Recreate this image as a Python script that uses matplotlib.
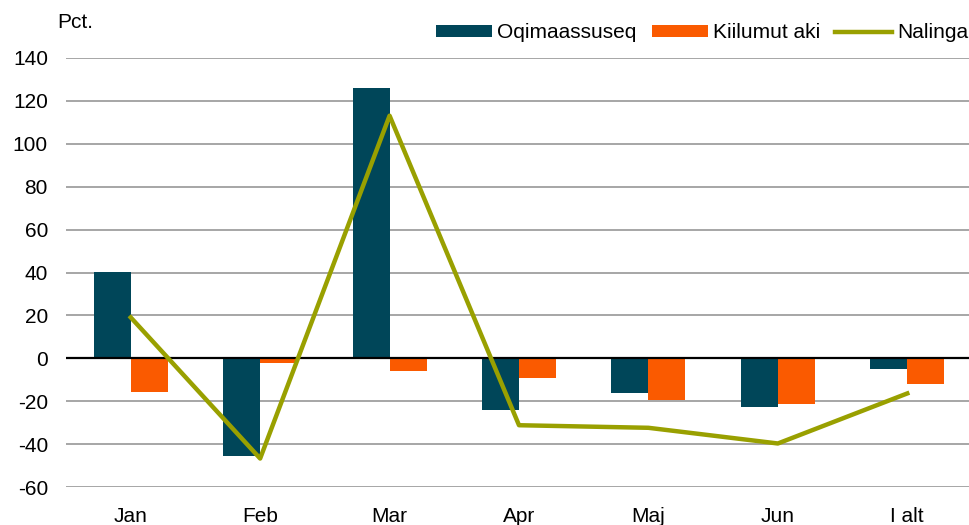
import matplotlib
matplotlib.use("Agg")
import matplotlib.pyplot as plt
import numpy as np

plt.rcParams['font.family'] = ['Liberation Sans', 'DejaVu Sans']

categories = ["Jan", "Feb", "Mar", "Apr", "Maj", "Jun", "I alt"]
oqimaassuseq = [40.3, -45.4, 125.7, -24.1, -16.0, -22.8, -4.7]
kiilumut_aki = [-15.5, -2.0, -5.9, -9.3, -19.4, -21.3, -12.1]
nalinga = [19.1, -46.6, 113.0, -31.1, -32.3, -39.6, -16.3]
yticks = [-60, -40, -20, 0, 20, 40, 60, 80, 100, 120, 140]

c_dark = "#004659"
c_orange = "#FA5A00"
c_line = "#99A000"
fs = 15

fig = plt.figure(figsize=(9.7, 5.25), dpi=100)
ax = fig.add_axes([66/970, 1-487.3/525, 906/970, (487.3-57.7)/525])

x = np.arange(len(categories))
w = 0.286
b1 = ax.bar(x - w/2, oqimaassuseq, width=w, color=c_dark, label="Oqimaassuseq", zorder=3)
b2 = ax.bar(x + w/2, kiilumut_aki, width=w, color=c_orange, label="Kiilumut aki", zorder=3)
l1, = ax.plot(x, nalinga, color=c_line, linewidth=3.2, label="Nalinga", zorder=4)

ax.set_xlim(-0.5, len(categories) - 0.5)
ax.set_ylim(-60, 140)
ax.set_yticks(yticks)
ax.set_yticklabels([str(v) for v in yticks])
ax.set_xticks(x)
ax.set_xticklabels(categories)
ax.yaxis.grid(True, color="#A6A6A6", linewidth=1.4, zorder=0)
ax.set_axisbelow(True)
ax.axhline(0, color="black", linewidth=1.6, zorder=3)
for s in ax.spines.values():
    s.set_visible(False)
ax.tick_params(axis='both', length=0, labelsize=fs, colors="black")
ax.tick_params(axis='y', pad=13)
ax.tick_params(axis='x', pad=14)

fig.text(57/970, 1-22/525, "Pct.", fontsize=fs, va="center", ha="left")

leg = fig.legend([b1, b2, l1], ["Oqimaassuseq", "Kiilumut aki", "Nalinga"],
                 loc="center right", bbox_to_anchor=(1.0, 1-33/525), ncol=3, frameon=False,
                 fontsize=fs, handlelength=2.7, handleheight=0.53, handletextpad=0.25,
                 columnspacing=0.72, borderaxespad=0, borderpad=0.1)

fig.savefig("out.png", dpi=100)
